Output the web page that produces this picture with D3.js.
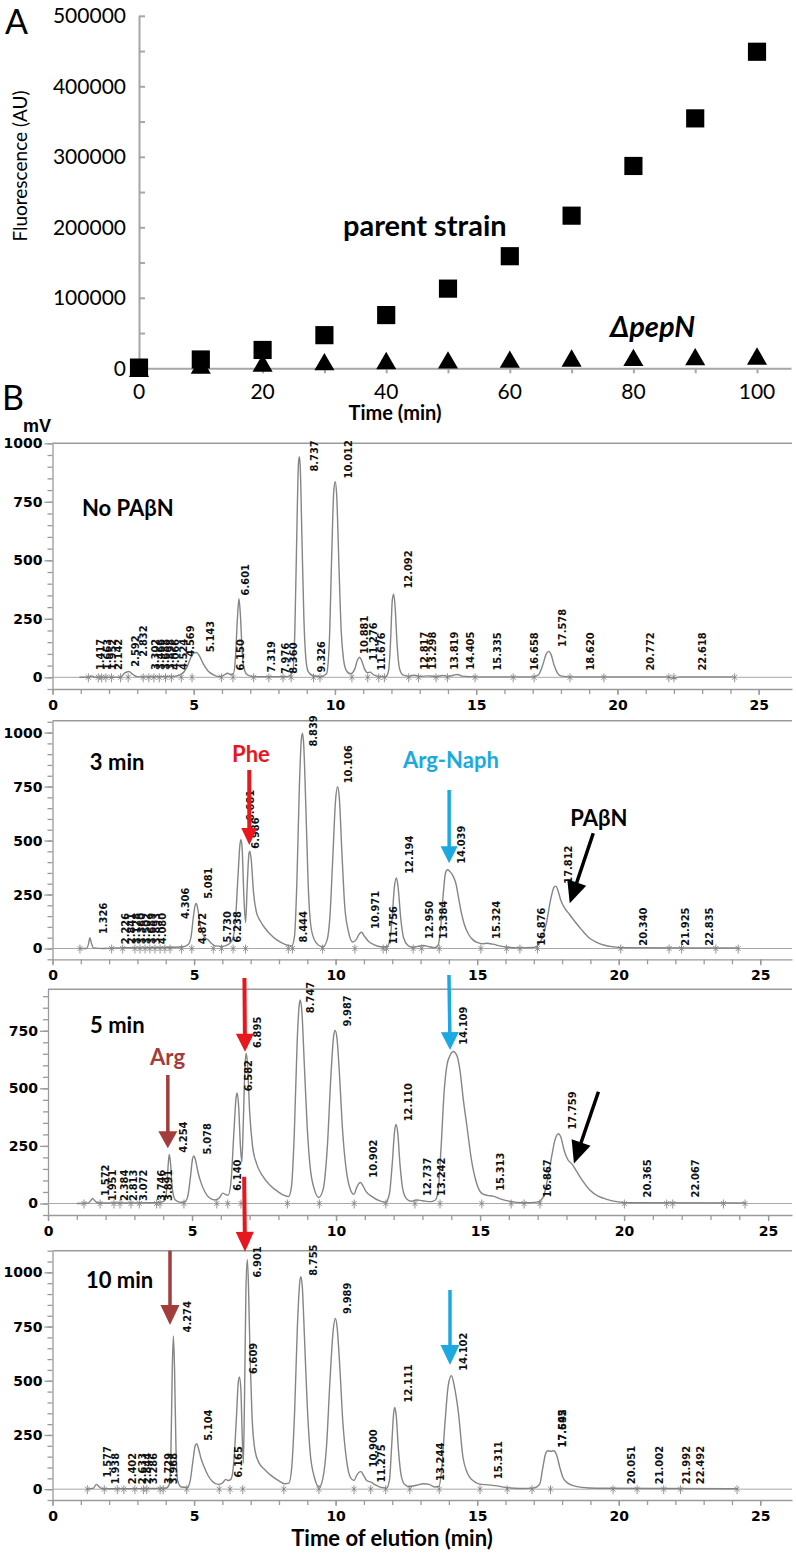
<!DOCTYPE html>
<html>
<head>
<meta charset="utf-8">
<script src="https://cdn.jsdelivr.net/npm/d3@7/dist/d3.min.js"></script>
<style>
body { margin: 0; background: #fff; }
svg { display: block; }
.pk { font-family: "Liberation Sans Narrow", "DejaVu Sans Condensed", sans-serif; font-stretch: condensed; font-weight: bold; font-size: 11px; fill: #111; }
.tkB { font-family: "DejaVu Sans", sans-serif; font-weight: bold; font-size: 14px; fill: #000; }
.tkA { font-family: Lato, "Open Sans", sans-serif; font-size: 21px; fill: #000; }
</style>
</head>
<body>
<div id="chart"></div>
<script>
// ---- panel A : fluorescence vs time ----
var timeA = [0, 10, 20, 30, 40, 50, 60, 70, 80, 90, 100];
var parentStrain = [1000, 12500, 26000, 47000, 75500, 113000, 159000, 216500, 287000, 354500, 449000];
var pepN = [0, 4500, 7500, 9500, 11000, 12000, 13000, 14500, 15500, 16500, 17500];
var yTicksA = [0, 100000, 200000, 300000, 400000, 500000];
var xTicksA = [0, 20, 40, 60, 80, 100];

// ---- panel B : chromatograms, [time (min), mV] ----
var traceNoPabn = [[0.95,0],[1.3,0],[1.4,6],[1.5,0],[2.4,0],[2.55,18],[2.7,25],[2.85,12],[3.0,3],[3.3,2],[4.3,4],[4.55,12],[4.75,40],[4.9,85],[5.0,103],[5.1,106],[5.2,92],[5.35,55],[5.5,28],[5.7,10],[5.9,3],[6.05,8],[6.2,17],[6.3,12],[6.4,14],[6.48,90],[6.55,260],[6.6,336],[6.65,270],[6.72,100],[6.8,30],[6.9,10],[7.1,3],[8.3,3],[8.5,20],[8.58,200],[8.65,620],[8.71,920],[8.74,943],[8.77,900],[8.83,600],[8.9,250],[8.97,80],[9.05,25],[9.2,8],[9.5,3],[9.7,15],[9.8,150],[9.88,500],[9.96,800],[10.01,836],[10.06,780],[10.14,480],[10.22,200],[10.3,80],[10.4,30],[10.55,15],[10.7,35],[10.8,75],[10.87,86],[10.95,70],[11.05,35],[11.15,20],[11.25,22],[11.35,12],[11.6,3],[11.8,3],[11.9,30],[11.97,160],[12.03,330],[12.08,355],[12.13,300],[12.2,140],[12.28,40],[12.4,10],[12.6,4],[12.8,9],[13.0,4],[13.3,6],[13.6,3],[13.8,8],[14.0,4],[14.2,9],[14.35,12],[14.5,5],[15.0,2],[17.0,2],[17.2,10],[17.35,50],[17.48,100],[17.56,111],[17.65,98],[17.75,55],[17.88,18],[18.0,6],[18.3,2],[21.8,2],[22.0,-5],[22.2,2],[24.1,2]];
var trace3min = [[0.95,0],[1.2,0],[1.27,20],[1.32,50],[1.38,22],[1.45,3],[1.8,0],[2.3,2],[2.5,4],[3.0,3],[4.0,5],[4.6,8],[4.8,20],[4.9,60],[4.97,140],[5.04,200],[5.08,209],[5.13,185],[5.2,120],[5.3,70],[5.4,48],[5.5,40],[5.6,25],[5.75,12],[6.0,10],[6.2,18],[6.35,40],[6.45,110],[6.55,330],[6.62,480],[6.66,505],[6.7,460],[6.76,240],[6.82,120],[6.88,300],[6.94,440],[6.97,451],[7.02,410],[7.1,260],[7.2,170],[7.35,125],[7.5,95],[7.7,65],[7.9,42],[8.1,26],[8.3,15],[8.45,12],[8.55,60],[8.63,300],[8.72,750],[8.79,970],[8.83,997],[8.87,950],[8.95,650],[9.03,300],[9.12,110],[9.25,40],[9.4,15],[9.55,8],[9.7,40],[9.8,150],[9.9,420],[10.0,690],[10.07,749],[10.13,700],[10.22,450],[10.32,200],[10.45,80],[10.6,30],[10.72,40],[10.85,70],[10.92,75],[11.0,60],[11.15,35],[11.35,18],[11.6,8],[11.8,8],[11.92,40],[12.0,150],[12.08,290],[12.15,327],[12.21,280],[12.3,140],[12.4,50],[12.55,15],[12.7,6],[12.9,10],[13.1,14],[13.3,8],[13.5,4],[13.62,15],[13.7,80],[13.8,250],[13.88,350],[13.95,365],[14.05,355],[14.15,335],[14.25,300],[14.35,230],[14.45,160],[14.55,110],[14.7,65],[14.85,40],[15.0,28],[15.2,22],[15.35,24],[15.55,20],[15.8,12],[16.0,7],[16.5,3],[17.0,5],[17.15,15],[17.3,50],[17.45,120],[17.6,230],[17.72,285],[17.78,289],[17.85,270],[17.95,225],[18.1,185],[18.25,160],[18.45,125],[18.7,85],[18.95,50],[19.2,30],[19.5,15],[19.8,8],[20.1,4],[24.2,2]];
var trace5min = [[1.0,0],[1.4,2],[1.5,15],[1.55,22],[1.62,12],[1.75,2],[2.5,2],[3.5,3],[3.9,5],[4.05,12],[4.12,60],[4.18,180],[4.21,213],[4.25,180],[4.32,60],[4.42,15],[4.6,5],[4.75,8],[4.85,30],[4.95,120],[5.02,195],[5.06,206],[5.12,190],[5.2,140],[5.3,95],[5.45,50],[5.6,25],[5.8,15],[5.95,25],[6.07,45],[6.15,40],[6.25,35],[6.35,90],[6.45,300],[6.53,460],[6.57,480],[6.62,420],[6.68,250],[6.73,180],[6.78,350],[6.84,600],[6.88,653],[6.93,600],[7.0,400],[7.1,250],[7.25,170],[7.45,120],[7.7,80],[8.0,50],[8.2,35],[8.35,30],[8.45,70],[8.55,300],[8.65,700],[8.72,860],[8.76,884],[8.81,840],[8.9,600],[9.0,330],[9.1,160],[9.25,60],[9.4,26],[9.55,60],[9.7,250],[9.82,550],[9.92,730],[9.97,751],[10.03,720],[10.12,560],[10.22,330],[10.35,150],[10.5,60],[10.62,40],[10.72,70],[10.8,88],[10.85,91],[10.92,80],[11.05,50],[11.25,30],[11.5,12],[11.72,5],[11.85,40],[11.95,170],[12.03,310],[12.08,343],[12.14,310],[12.22,170],[12.32,60],[12.45,20],[12.6,10],[12.8,15],[13.0,12],[13.3,8],[13.45,15],[13.55,60],[13.65,250],[13.75,480],[13.85,600],[13.95,640],[14.07,660],[14.2,640],[14.3,580],[14.42,450],[14.55,330],[14.7,190],[14.87,92],[15.05,45],[15.25,35],[15.45,32],[15.7,20],[16.0,10],[16.5,3],[17.0,6],[17.2,30],[17.35,110],[17.48,200],[17.6,275],[17.72,303],[17.8,290],[17.92,230],[18.05,190],[18.2,170],[18.35,140],[18.55,100],[18.8,60],[19.1,32],[19.4,18],[19.8,7],[20.2,3],[24.2,2]];
var trace10min = [[1.2,0],[1.45,5],[1.55,22],[1.63,14],[1.75,2],[2.5,2],[3.5,3],[4.0,4],[4.12,20],[4.18,150],[4.23,550],[4.27,707],[4.31,560],[4.36,200],[4.42,40],[4.55,10],[4.75,8],[4.85,30],[4.95,120],[5.04,200],[5.09,210],[5.15,190],[5.25,140],[5.35,105],[5.5,62],[5.65,35],[5.85,22],[6.0,28],[6.12,45],[6.2,40],[6.3,45],[6.4,120],[6.5,340],[6.56,490],[6.6,518],[6.65,470],[6.7,250],[6.74,120],[6.78,400],[6.83,900],[6.88,1060],[6.92,950],[6.98,600],[7.05,330],[7.15,180],[7.3,120],[7.5,90],[7.75,60],[8.0,38],[8.2,25],[8.35,28],[8.45,100],[8.55,350],[8.65,750],[8.73,950],[8.77,980],[8.82,940],[8.9,700],[9.0,380],[9.1,170],[9.25,55],[9.42,10],[9.55,50],[9.68,200],[9.8,500],[9.92,740],[9.99,787],[10.05,750],[10.15,560],[10.25,320],[10.38,140],[10.52,55],[10.65,40],[10.75,65],[10.85,80],[10.9,81],[10.98,65],[11.1,40],[11.25,32],[11.4,20],[11.6,8],[11.8,5],[11.9,40],[11.98,200],[12.05,350],[12.09,377],[12.14,340],[12.22,180],[12.32,60],[12.45,20],[12.6,12],[12.85,18],[13.1,25],[13.3,22],[13.5,10],[13.65,12],[13.74,84],[13.86,300],[13.98,480],[14.09,523],[14.2,470],[14.33,361],[14.5,146],[14.62,85],[14.74,54],[14.9,35],[15.09,23],[15.4,20],[15.7,15],[16.0,8],[16.5,3],[17.0,5],[17.21,23],[17.32,100],[17.42,165],[17.5,177],[17.6,175],[17.7,177],[17.8,160],[17.92,100],[18.03,54],[18.2,28],[18.4,16],[18.7,8],[19.2,4],[24.2,2]];

// peak labels: [text, time, mV at the foot of the label]
var labelsNoPabn = [["1.417",1.68,31],["1.663",1.92,31],["1.952",2.1,31],["2.142",2.33,31],["2.592",2.92,45],["2.832",3.21,88],["3.302",3.63,31],["3.466",3.81,31],["3.688",3.98,31],["3.898",4.16,31],["4.066",4.34,31],["4.524",4.63,31],["4.569",4.87,88],["5.143",5.59,107],["6.150",6.63,29],["6.601",6.80,350],["7.319",7.75,21],["7.976",8.22,14],["8.360",8.51,15],["8.737",9.24,879],["9.326",9.51,21],["10.012",10.45,850],["10.881",11.04,100],["11.276",11.34,72],["11.676",11.63,29],["12.092",12.57,379],["12.817",13.16,32],["13.298",13.43,32],["13.819",14.22,32],["14.405",14.78,32],["15.335",15.72,29],["16.658",17.05,29],["17.578",18.05,129],["18.620",19.02,29],["20.772",21.14,29],["22.618",23.0,29]];
var labels3min = [["1.326",1.79,67],["2.226",2.56,20],["2.841",2.78,20],["3.128",2.96,20],["3.360",3.13,20],["3.502",3.31,20],["3.689",3.49,20],["3.893",3.67,20],["4.080",3.86,20],["4.306",4.68,137],["4.872",5.27,20],["5.081",5.5,230],["5.730",6.15,28],["6.238",6.5,28],["6.681",6.98,590],["6.986",7.15,462],["8.444",8.86,28],["8.839",9.21,935],["10.106",10.45,765],["10.971",11.39,90],["11.756",12.03,20],["12.194",12.6,346],["12.950",13.3,44],["13.384",13.8,44],["14.039",14.42,392],["15.324",15.68,44],["16.876",17.27,13],["17.812",18.21,300],["20.340",20.84,13],["21.925",22.33,13],["22.835",23.19,13]];
var labels5min = [["1.572",1.98,33],["1.951",2.21,11],["2.384",2.64,11],["2.813",2.96,11],["3.072",3.29,11],["3.746",3.92,11],["3.891",4.18,11],["4.254",4.68,220],["5.078",5.51,213],["6.140",6.55,55],["6.582",6.96,487],["6.895",7.25,675],["8.747",9.1,826],["9.987",10.37,768],["10.902",11.3,112],["12.110",12.51,357],["12.737",13.15,33],["13.242",13.64,33],["14.109",14.42,689],["15.313",15.69,55],["16.867",17.32,26],["17.759",18.18,321],["20.365",20.79,26],["22.067",22.47,26]];
var labels10min = [["1.577",1.94,54],["1.938",2.21,23],["2.402",2.8,23],["2.633",3.15,23],["2.844",3.33,23],["3.286",3.56,23],["3.729",4.09,23],["3.968",4.27,23],["4.274",4.74,723],["5.104",5.5,223],["6.165",6.56,54],["6.609",7.09,531],["6.901",7.21,976],["8.755",9.21,984],["9.989",10.39,808],["10.900",11.33,100],["11.275",11.62,31],["12.111",12.56,400],["13.244",13.68,38],["14.102",14.51,546],["15.311",15.74,46],["17.592",17.98,192],["17.645",17.98,192],["20.051",20.45,23],["21.002",21.43,23],["21.992",22.37,23],["22.492",22.86,23]];

// integration marks on the baseline (min)
var marksNoPabn = [1.27,1.62,1.74,1.89,2.09,2.41,2.68,3.21,3.41,3.59,3.78,4.0,4.21,4.56,4.94,5.98,6.39,7.12,7.66,8.16,8.45,9.24,9.47,10.6,11.16,11.55,11.75,12.61,12.96,13.58,13.98,14.96,16.31,17.05,18.32,19.52,21.82,22.0,24.15];
var marks3min = [0.97,2.09,2.48,2.91,3.09,3.27,3.44,3.62,3.8,3.97,4.15,4.56,4.92,5.68,5.97,6.38,6.82,8.33,8.48,9.54,10.68,11.68,11.8,12.74,13.04,13.66,15.13,16.04,16.51,17.13,20.07,21.78,22.22,23.43,24.22];
var marks5min = [1.25,1.81,2.29,2.5,2.88,3.17,3.77,3.89,4.72,5.86,6.24,6.7,8.31,9.42,10.63,11.73,12.74,13.61,15.06,16.08,16.53,17.08,20.01,21.48,21.69,23.45,24.2];
var marks10min = [1.23,1.83,2.29,2.52,2.91,3.21,3.33,3.8,3.91,4.74,5.89,6.27,6.72,8.17,9.41,10.65,11.24,11.77,12.62,13.66,15.1,16.06,16.94,17.59,19.8,20.65,21.59,22.18,24.18];

var yMajorB = [0, 250, 500, 750, 1000];
var xMajorB = [0, 5, 10, 15, 20, 25];

var W = 796, H = 1562;
var axisGray = "#9a9a9a";
var red = "#e8161d", blue = "#1ca9e1", brown = "#a23d3b";

var svg = d3.select("#chart").append("svg")
    .attr("width", W)
    .attr("height", H);

// ===================== panel A =====================
var xA = d3.scaleLinear().domain([0, 105.5]).range([139, 791]);
var yA = d3.scaleLinear().domain([0, 500000]).range([368.3, 15.8]);

var gA = svg.append("g");

// y axis, ticks pointing inward
gA.append("g")
    .attr("transform", "translate(139,0)")
    .call(d3.axisRight(yA).tickValues(d3.range(0, 500001, 50000)).tickSize(6).tickSizeOuter(0).tickFormat(""))
    .call(g => g.selectAll("path,line").attr("stroke", "#a6a6a6").attr("stroke-width", 2));
gA.selectAll(".ylabA").data(yTicksA).enter().append("text")
    .attr("class", "tkA")
    .attr("x", 126)
    .attr("y", d => yA(d))
    .attr("dy", "0.36em")
    .attr("text-anchor", "end")
    .text(d => d);

// x axis
gA.append("g")
    .attr("transform", "translate(0,368.3)")
    .call(d3.axisBottom(xA).tickValues(d3.range(0, 101, 10)).tickSize(5).tickSizeOuter(0).tickFormat(""))
    .call(g => g.selectAll("path,line").attr("stroke", "#a6a6a6").attr("stroke-width", 2));
gA.selectAll(".xlabA").data(xTicksA).enter().append("text")
    .attr("class", "tkA")
    .attr("x", d => xA(d))
    .attr("y", 399)
    .attr("text-anchor", "middle")
    .text(d => d);

// markers
gA.selectAll(".tri").data(timeA).enter().append("path")
    .attr("d", d3.symbol().type(d3.symbolTriangle).size(175))
    .attr("transform", (d, i) => "translate(" + xA(d) + "," + (yA(pepN[i]) + 2.9) + ")")
    .attr("fill", "#000");
gA.selectAll(".sq").data(timeA).enter().append("path")
    .attr("d", d3.symbol().type(d3.symbolSquare).size(330))
    .attr("transform", (d, i) => "translate(" + xA(d) + "," + yA(parentStrain[i]) + ")")
    .attr("fill", "#000");

gA.append("text").attr("x", 5).attr("y", 34)
    .style("font", "34px Lato, sans-serif").text("A");
gA.append("text")
    .attr("transform", "translate(27,166) rotate(-90)")
    .attr("text-anchor", "middle")
    .style("font", "19px Lato, sans-serif")
    .text("Fluorescence (AU)");
gA.append("text").attr("x", 395).attr("y", 420)
    .attr("text-anchor", "middle")
    .style("font", "bold 20px Lato, sans-serif")
    .text("Time (min)");
gA.append("text").attr("x", 343).attr("y", 236)
    .style("font", "bold 29px Lato, sans-serif")
    .text("parent strain");
gA.append("text").attr("x", 610).attr("y", 337)
    .style("font", "italic bold 29px Lato, sans-serif")
    .text("ΔpepN");

// ===================== panel B =====================
svg.append("text").attr("x", 2).attr("y", 410)
    .style("font", "34px Lato, sans-serif").text("B");
svg.append("text").attr("x", 23).attr("y", 432)
    .style("font", "bold 18px 'Liberation Sans', Arial, sans-serif").text("mV");

var panels = [
    { name: "No PAβN", trace: traceNoPabn, labels: labelsNoPabn, marks: marksNoPabn,
      left: 52.5, top: 443.3, bottom: 689, vTop: 1000, tMax: 26.18, title: [1.04, 691] },
    { name: "3 min", trace: trace3min, labels: labels3min, marks: marks3min,
      left: 52.5, top: 720.7, bottom: 959.3, vTop: 1055, tMax: 26.12, title: [1.32, 827] },
    { name: "5 min", trace: trace5min, labels: labels5min, marks: marks5min,
      left: 48, top: 989.3, bottom: 1215, vTop: 930, tMax: 25.83, title: [1.46, 740] },
    { name: "10 min", trace: trace10min, labels: labels10min, marks: marks10min,
      left: 52.5, top: 1250.7, bottom: 1500, vTop: 1100, tMax: 26.12, title: [1.18, 928] }
];

// annotations per panel: arrows [t0, v0, t1(tip), v1, colour, head length, head width, line width]
var arrows = [
    [],
    [[6.95, 827, 6.95, 479, red, 17, 16, 4], [14.01, 734, 14.01, 395, blue, 17, 17, 3.5], [19.1, 534, 18.27, 209, "#000", 22, 20, 3.5]],
    [[6.82, 979, 6.84, 659, red, 18, 18, 4], [13.92, 992, 13.96, 666, blue, 18, 18, 3.5], [4.16, 558, 4.16, 240, brown, 17, 19, 3.5], [19.11, 485, 18.26, 174, "#000", 22, 20, 3.5]],
    [[6.77, 1441, 6.8, 1095, red, 20, 18, 4], [4.15, 1100, 4.15, 757, brown, 20, 19, 3.5], [14.04, 919, 14.04, 573, blue, 20, 19, 3.5]]
];
// annotation texts [text, t, v, colour, anchor]
var notes = [
    [],
    [["Phe", 7.01, 864, red, "middle"], ["Arg-Naph", 14.07, 836, blue, "middle"], ["PAβN", 19.3, 567, "#000", "middle"]],
    [["Arg", 4.15, 601, brown, "middle"]],
    []
];

panels.forEach(function(p, pi) {
    var x = d3.scaleLinear().domain([0, p.tMax]).range([p.left, 792]);
    var y = d3.scaleLinear().domain([-50, p.vTop]).range([p.bottom, p.top]);
    var g = svg.append("g");

    // top frame line
    g.append("line")
        .attr("x1", p.left).attr("x2", 792)
        .attr("y1", p.top).attr("y2", p.top)
        .attr("stroke", axisGray).attr("stroke-width", 1.5);

    // y axis: minor + major
    var yMinor = d3.range(-50, p.vTop + 1, 50);
    g.append("g")
        .attr("transform", "translate(" + p.left + ",0)")
        .call(d3.axisLeft(y).tickValues(yMinor).tickSize(5).tickSizeOuter(0).tickFormat(""))
        .call(s => s.selectAll("path,line").attr("stroke", axisGray).attr("stroke-width", 1.3));
    g.append("g")
        .attr("transform", "translate(" + p.left + ",0)")
        .call(d3.axisLeft(y).tickValues(yMajorB.filter(v => v <= p.vTop)).tickSize(8).tickPadding(2).tickSizeOuter(0).tickFormat(d3.format("d")))
        .call(s => s.select(".domain").remove())
        .call(s => s.selectAll("line").attr("stroke", axisGray).attr("stroke-width", 1.3))
        .call(s => s.selectAll("text").attr("class", "tkB").attr("font-family", null).attr("font-size", null));

    // x axis: minor + major
    g.append("g")
        .attr("transform", "translate(0," + p.bottom + ")")
        .call(d3.axisBottom(x).tickValues(d3.range(0, 26, 1)).tickSize(5).tickSizeOuter(0).tickFormat(""))
        .call(s => s.selectAll("path,line").attr("stroke", axisGray).attr("stroke-width", 1.3));
    g.append("g")
        .attr("transform", "translate(0," + p.bottom + ")")
        .call(d3.axisBottom(x).tickValues(xMajorB).tickSize(6).tickPadding(5).tickSizeOuter(0).tickFormat(d3.format("d")))
        .call(s => s.select(".domain").remove())
        .call(s => s.selectAll("line").attr("stroke", axisGray).attr("stroke-width", 1.3))
        .call(s => s.selectAll("text").attr("class", "tkB").attr("font-family", null).attr("font-size", null));

    // zero baseline
    g.append("line")
        .attr("x1", x(0)).attr("x2", 792)
        .attr("y1", y(0)).attr("y2", y(0))
        .attr("stroke", "#a8a8a8").attr("stroke-width", 1);

    // integration marks
    var mk = g.selectAll(".mk").data(p.marks).enter().append("g")
        .attr("transform", d => "translate(" + x(d) + "," + y(0) + ")")
        .attr("stroke", "#777").attr("stroke-width", 0.8);
    mk.append("line").attr("x1", 0).attr("x2", 0).attr("y1", -4).attr("y2", 5);
    mk.append("line").attr("x1", -2.5).attr("x2", 2.5).attr("y1", -2.5).attr("y2", 2.5);
    mk.append("line").attr("x1", -2.5).attr("x2", 2.5).attr("y1", 2.5).attr("y2", -2.5);

    // chromatogram trace
    var line = d3.line()
        .x(d => x(d[0]))
        .y(d => y(d[1]))
        .curve(d3.curveMonotoneX);
    g.append("path")
        .datum(p.trace)
        .attr("d", line)
        .attr("fill", "none")
        .attr("stroke", "#858585")
        .attr("stroke-width", 1.4);

    // peak labels
    g.selectAll(".pk").data(p.labels).enter().append("text")
        .attr("class", "pk")
        .attr("transform", d => "translate(" + (x(d[1]) + 4) + "," + y(d[2]) + ") rotate(-90)")
        .text(d => d[0]);

    // title
    g.append("text")
        .attr("x", x(p.title[0])).attr("y", y(p.title[1]))
        .style("font", "bold 22px Lato, sans-serif")
        .text(p.name);

    // arrows
    arrows[pi].forEach(function(a) {
        var x0 = x(a[0]), y0 = y(a[1]), x1 = x(a[2]), y1 = y(a[3]);
        var dx = x1 - x0, dy = y1 - y0, len = Math.sqrt(dx * dx + dy * dy);
        var ux = dx / len, uy = dy / len;
        var bx = x1 - ux * a[5], by = y1 - uy * a[5];
        g.append("line")
            .attr("x1", x0).attr("y1", y0).attr("x2", bx + ux).attr("y2", by + uy)
            .attr("stroke", a[4]).attr("stroke-width", a[7]);
        var hw = a[6] / 2;
        g.append("path")
            .attr("d", "M" + x1 + "," + y1 +
                "L" + (bx - uy * hw) + "," + (by + ux * hw) +
                "L" + (bx + uy * hw) + "," + (by - ux * hw) + "Z")
            .attr("fill", a[4]);
    });

    // annotation texts
    notes[pi].forEach(function(n) {
        g.append("text")
            .attr("x", x(n[1])).attr("y", y(n[2]))
            .attr("text-anchor", n[4])
            .attr("fill", n[3])
            .style("font", "bold 22px Lato, sans-serif")
            .text(n[0]);
    });
});

svg.append("text")
    .attr("x", 392).attr("y", 1546)
    .attr("text-anchor", "middle")
    .style("font", "bold 22px Lato, sans-serif")
    .text("Time of elution (min)");
</script>
</body>
</html>
